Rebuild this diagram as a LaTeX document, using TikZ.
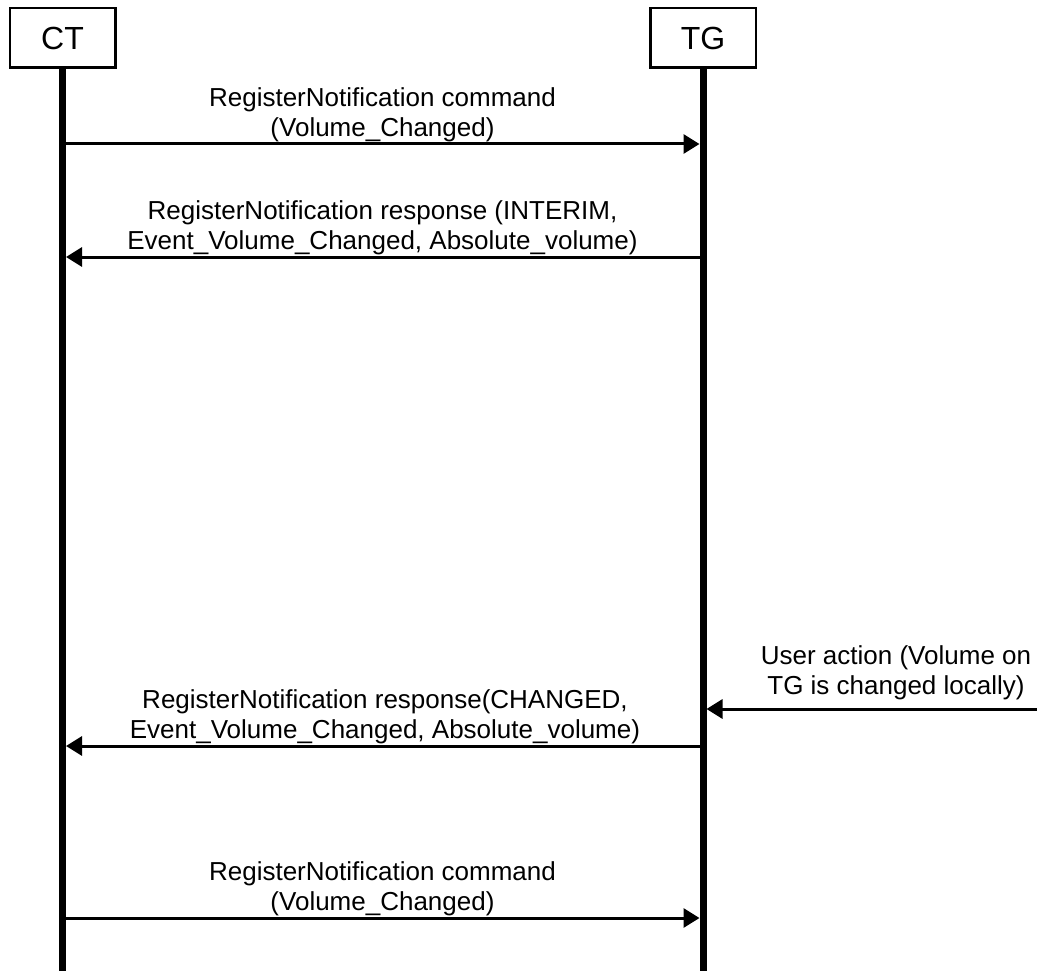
\documentclass[tikz,border=0pt]{standalone}
\usepackage{fontspec}
\setmainfont{Liberation Sans}
\usetikzlibrary{arrows.meta}
\begin{document}
\begin{tikzpicture}[x=1pt,y=-1pt,
  actor/.style={draw, line width=2.5pt, minimum width=105.5pt, minimum height=59.5pt, inner sep=0pt, font=\fontsize{32}{38}\selectfont},
  life/.style={line width=7pt},
  msg/.style={line width=3pt, -{Triangle[length=16pt,width=19pt]}},
  lbl/.style={font=\fontsize{26}{30}\selectfont, align=center, inner sep=0pt, anchor=south}]
\useasboundingbox (0,0) rectangle (1037,971);
\node[actor] (CT) at (62.5,38) {CT};
\node[actor] (TG) at (703,38) {TG};
\coordinate (CTend) at (62.5,971);
\coordinate (TGend) at (703,971);
\draw[life] (CT.south) -- (CTend);
\draw[life] (TG.south) -- (TGend);
% message 1
\coordinate (c1) at (62.5,144);
\coordinate (t1) at (703,144);
\draw[msg, shorten >=3.5pt] (c1) -- (t1);
\node[lbl] (m1) at (382.5,142) {RegisterNotification command\\(Volume\_Changed)};
% message 2
\coordinate (c2) at (62.5,257);
\coordinate (t2) at (703,257);
\draw[msg, shorten >=3.5pt] (t2) -- (c2);
\node[lbl] (m2) at (382.5,255) {RegisterNotification response (INTERIM,\\Event\_Volume\_Changed, Absolute\_volume)};
% user action
\coordinate (u) at (1037,709);
\coordinate (t3) at (703,709);
\draw[msg, shorten >=3.5pt] (u) -- (t3);
\node[lbl] (m3) at (896,700) {User action (Volume on\\TG is changed locally)};
% message 3
\coordinate (c4) at (62.5,746);
\coordinate (t4) at (703,746);
\draw[msg, shorten >=3.5pt] (t4) -- (c4);
\node[lbl] (m4) at (385,744) {RegisterNotification response(CHANGED,\\Event\_Volume\_Changed, Absolute\_volume)};
% message 4
\coordinate (c5) at (62.5,918);
\coordinate (t5) at (703,918);
\draw[msg, shorten >=3.5pt] (c5) -- (t5);
\node[lbl] (m5) at (382.5,916) {RegisterNotification command\\(Volume\_Changed)};
\end{tikzpicture}
\end{document}
